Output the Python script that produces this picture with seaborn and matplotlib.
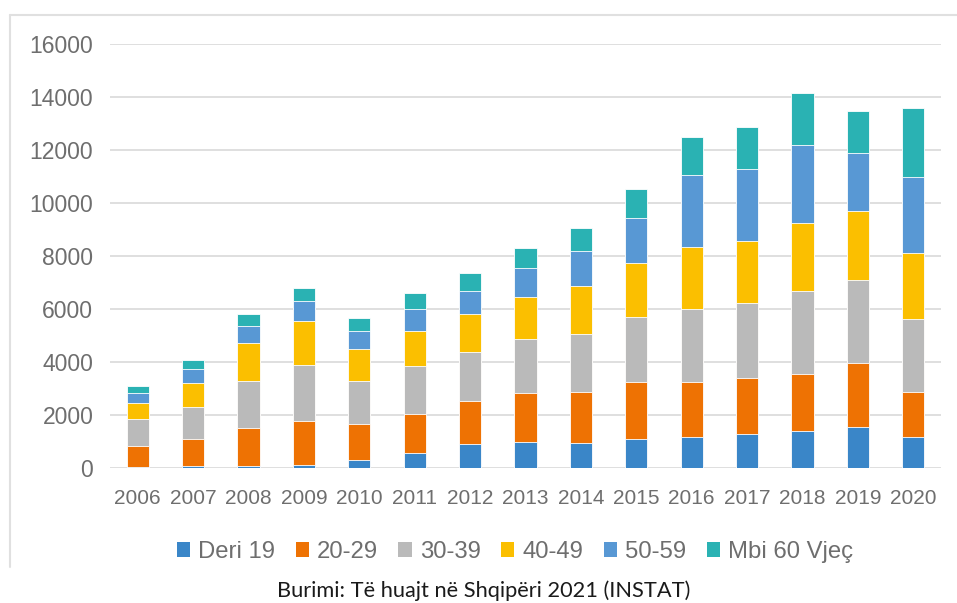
import numpy as np
import pandas as pd
import matplotlib
matplotlib.use("Agg")
import matplotlib.pyplot as plt
from matplotlib.patches import Patch
from matplotlib.lines import Line2D
import seaborn as sns

years = ["2006", "2007", "2008", "2009", "2010", "2011", "2012", "2013",
         "2014", "2015", "2016", "2017", "2018", "2019", "2020"]
deri_19 = [15, 63, 75, 88, 277, 541, 880, 981, 931, 1094, 1145, 1258, 1371, 1522, 1145]
age_20_29 = [803, 1019, 1434, 1660, 1371, 1484, 1648, 1849, 1937, 2139, 2100, 2138, 2176, 2415, 1723]
age_30_39 = [1006, 1195, 1749, 2114, 1610, 1799, 1824, 2013, 2189, 2440, 2730, 2818, 3107, 3158, 2730]
age_40_49 = [616, 931, 1447, 1685, 1208, 1333, 1434, 1597, 1811, 2051, 2377, 2365, 2579, 2591, 2503]
age_50_59 = [365, 503, 654, 755, 679, 818, 881, 1120, 1334, 1723, 2705, 2717, 2969, 2214, 2881]
mbi_60 = [277, 352, 440, 478, 490, 616, 667, 742, 867, 1094, 1434, 1585, 1937, 1585, 2591]

series_names = ["Deri 19", "20-29", "30-39", "40-49", "50-59", "Mbi 60 Vjeç"]
series_vals = [deri_19, age_20_29, age_30_39, age_40_49, age_50_59, mbi_60]
colors = ["#3A86C8", "#EE7203", "#BABABA", "#FBBF00", "#5898D4", "#2AB2B3"]
yticks = [0, 2000, 4000, 6000, 8000, 10000, 12000, 14000, 16000]
source = "Burimi: Të huajt në Shqipëri 2021 (INSTAT)"

sns.set_theme(style="white")
plt.rcParams["font.family"] = ["Liberation Sans", "DejaVu Sans"]

W, H = 957, 603
fig = plt.figure(figsize=(W / 100, H / 100), dpi=100)
ax = fig.add_axes([110 / W, 1 - 467.7 / H, (941 - 110) / W, (467.7 - 44) / H])

cum = np.zeros(len(years))
cums = []
for v in series_vals:
    cum = cum + np.array(v)
    cums.append(cum.copy())

# draw from tallest (cumulative top) to shortest so each segment shows
for name, c, col in reversed(list(zip(series_names, cums, colors))):
    d = pd.DataFrame({"year": years, "value": c})
    sns.barplot(data=d, x="year", y="value", color=col, width=0.4,
                errorbar=None, ax=ax, edgecolor="white", linewidth=0.6,
                saturation=1, zorder=3)

ax.set_ylim(0, 16000)
ax.set_xlim(-0.5, len(years) - 0.5)
ax.set_yticks(yticks)
ax.set_yticklabels([str(t) for t in yticks])
ax.yaxis.grid(True, color="#D9D9D9", linewidth=1.2, zorder=0)
ax.xaxis.grid(False)
ax.set_axisbelow(True)
for s in ax.spines.values():
    s.set_visible(False)
ax.set_xlabel("")
ax.set_ylabel("")
ax.tick_params(axis="y", length=0, pad=12, labelsize=16.5, labelcolor="#6E6E6E")
ax.tick_params(axis="x", length=0, pad=15, labelsize=15, labelcolor="#6E6E6E")

handles = [Patch(facecolor=col, edgecolor="none", label=n) for n, col in zip(series_names, colors)]
fig.legend(handles=handles, loc="center", bbox_to_anchor=(515 / W, 1 - 552 / H),
           ncol=6, frameon=False, fontsize=17.2, handlelength=0.55, handleheight=0.55,
           handletextpad=0.35, columnspacing=0.85, labelcolor="#6E6E6E",
           borderpad=0, borderaxespad=0)

fig.text(484 / W, 1 - 591 / H, source, ha="center", va="center",
         fontsize=15.7, color="#1A1A1A", family=["Lato", "DejaVu Sans"])

# chart border (left and top edges visible)
fig.add_artist(Line2D([10 / W, 10 / W], [1 - 567 / H, 1 - 15 / H], color="#E0E0E0", linewidth=1.5))
fig.add_artist(Line2D([10 / W, 1.0], [1 - 15 / H, 1 - 15 / H], color="#E0E0E0", linewidth=1.5))

fig.savefig("out.png", dpi=100)
